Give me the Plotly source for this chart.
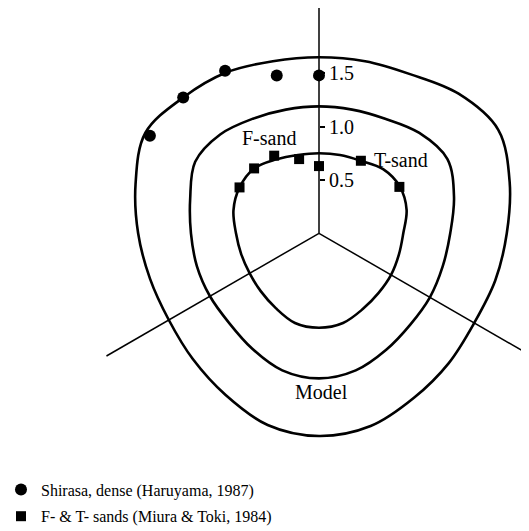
import numpy as np
import plotly.graph_objects as go

# angles in degrees, clockwise from the upward axis
CURVE_ANGLE = [0, 15, 30, 45, 60, 75, 90, 105, 120, 135, 150, 165,
               180, 195, 210, 225, 240, 255, 270, 285, 300, 315, 330, 345]
INNER_R = [0.75, 0.76, 0.785, 0.85, 0.875, 0.85, 0.79, 0.775, 0.78, 0.79, 0.82, 0.87,
           0.885, 0.87, 0.81, 0.77, 0.75, 0.755, 0.778, 0.83, 0.86, 0.86, 0.80, 0.76]
MIDDLE_R = [1.19, 1.20, 1.24, 1.33, 1.39, 1.31, 1.23, 1.20, 1.20, 1.21, 1.26, 1.33,
            1.36, 1.33, 1.25, 1.19, 1.18, 1.185, 1.20, 1.25, 1.34, 1.31, 1.24, 1.20]
OUTER_R = [1.65, 1.67, 1.72, 1.85, 1.94, 1.85, 1.76, 1.71, 1.68, 1.72, 1.78, 1.87,
           1.90, 1.86, 1.75, 1.67, 1.625, 1.64, 1.695, 1.78, 1.88, 1.80, 1.74, 1.67]

SHIRASA_ANGLE = [-60, -45, -30, -15, 0]
SHIRASA_R = [1.83, 1.80, 1.76, 1.53, 1.48]

FT_ANGLE = [-60, -45, -30, -15, 0, 30, 60]
FT_R = [0.86, 0.86, 0.84, 0.72, 0.63, 0.785, 0.87]

AXIS_ANGLE = [0, 120, 240]
AXIS_LEN = [2.12, 2.3, 2.3]

TICK_VALS = [0.5, 1.0, 1.5]
TICK_TEXT = ['0.5', '1.0', '1.5']

LABELS = ['F-sand', 'T-sand', 'Model']
LABEL_X = [-0.74, 0.50, 0.02]
LABEL_Y = [0.89, 0.69, -1.49]
LABEL_ANCHOR = ['left', 'left', 'center']

PAGE_PAD = 8            # default body margin of the html page
W, H = 529 - PAGE_PAD, 531 - PAGE_PAD
SCALE = 106.7           # px per unit
CX, CY = 319 - PAGE_PAD, 233.3 - PAGE_PAD     # origin in px
FONT = 'Liberation Serif'


def to_xy(angle, r):
    a = np.radians(np.asarray(angle, dtype=float))
    r = np.asarray(r, dtype=float)
    return r * np.sin(a), r * np.cos(a)


fig = go.Figure()

# the three axes
for ang, ln in zip(AXIS_ANGLE, AXIS_LEN):
    x, y = to_xy([ang, ang], [0, ln])
    fig.add_trace(go.Scatter(x=x, y=y, mode='lines', showlegend=False, hoverinfo='skip',
                             line=dict(color='black', width=1.5)))

# model curves
for radii in (INNER_R, MIDDLE_R, OUTER_R):
    x, y = to_xy(CURVE_ANGLE + CURVE_ANGLE[:1], radii + radii[:1])
    fig.add_trace(go.Scatter(x=x, y=y, mode='lines', showlegend=False, hoverinfo='skip',
                             line=dict(color='black', width=2.6, shape='spline', smoothing=1)))

# measured points
x, y = to_xy(SHIRASA_ANGLE, SHIRASA_R)
fig.add_trace(go.Scatter(x=x, y=y, mode='markers', name='Shirasa, dense (Haruyama, 1987)',
                         legendgroup='a', marker=dict(symbol='circle', size=12, color='black')))
x, y = to_xy(FT_ANGLE, FT_R)
fig.add_trace(go.Scatter(x=x, y=y, mode='markers', name='F- & T- sands (Miura & Toki, 1984)',
                         legendgroup='b', marker=dict(symbol='square', size=10, color='black')))

# dummy trace so the tick axis is drawn
fig.add_trace(go.Scatter(x=[None], y=[None], yaxis='y2', showlegend=False, hoverinfo='skip'))

xr = [-CX / SCALE, (W - CX) / SCALE]
yr = [-(H - CY) / SCALE, CY / SCALE]
dom = [(0 - yr[0]) / (yr[1] - yr[0]), 1]

for text, lx, ly, anchor in zip(LABELS, LABEL_X, LABEL_Y, LABEL_ANCHOR):
    fig.add_annotation(x=lx, y=ly, text=text, showarrow=False, xanchor=anchor,
                       font=dict(family=FONT, size=20, color='black'))

fig.update_layout(
    width=W, height=H,
    margin=dict(l=0, r=0, t=0, b=0, autoexpand=False),
    paper_bgcolor='white', plot_bgcolor='rgba(0,0,0,0)',
    xaxis=dict(range=xr, visible=False, fixedrange=True),
    yaxis=dict(range=yr, visible=False, fixedrange=True),
    yaxis2=dict(range=[0, yr[1]], domain=dom, anchor='free', position=CX / W, side='right',
                tickvals=TICK_VALS, ticktext=TICK_TEXT, ticks='outside', ticklen=5, tickwidth=1.5,
                tickcolor='black', showline=False, showgrid=False, zeroline=False,
                tickfont=dict(family=FONT, size=20, color='black'), fixedrange=True),
    showlegend=True,
    legend=dict(x=-7 / W, y=1 - 464.5 / H, xanchor='left', yanchor='top', tracegroupgap=3,
                font=dict(family=FONT, size=16, color='black'), bgcolor='rgba(0,0,0,0)'),
)

fig.write_html('out.html')
